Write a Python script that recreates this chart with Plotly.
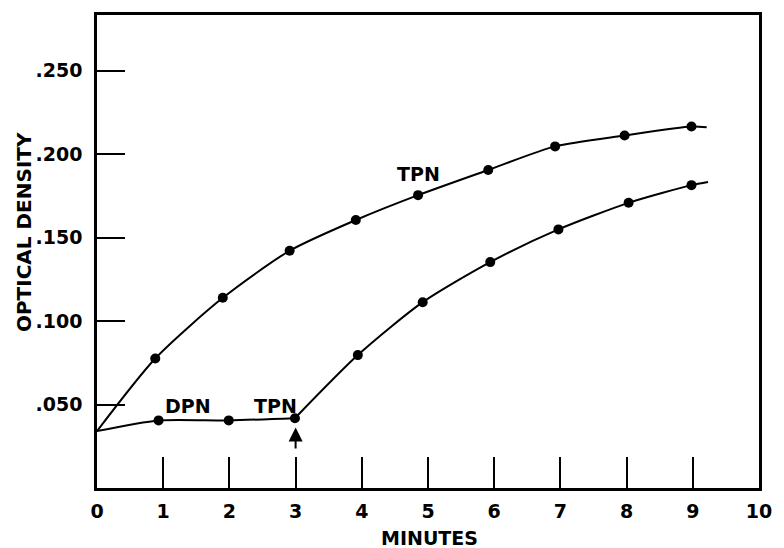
import plotly.graph_objects as go

# Data (minutes, optical density)
t_start = 0.0
od_start = 0.0341

t_tpn = [0.88, 1.90, 2.91, 3.91, 4.85, 5.91, 6.92, 7.97, 8.98]
od_tpn = [0.0776, 0.1139, 0.1421, 0.1605, 0.1754, 0.1905, 0.2046, 0.2111, 0.2165]
t_tpn_end = 9.21
od_tpn_end = 0.2160

t_dpn = [0.93, 1.99, 2.99]
od_dpn = [0.0405, 0.0405, 0.0418]

t_after = [3.94, 4.92, 5.94, 6.97, 8.03, 8.98]
od_after = [0.0796, 0.1113, 0.1353, 0.1549, 0.1708, 0.1814]
t_after_end = 9.23
od_after_end = 0.1833

x_ticks = list(range(0, 11))
x_ticktext = [str(v) for v in x_ticks]
y_ticks = [0.05, 0.10, 0.15, 0.20, 0.25]
y_ticktext = [".050", ".100", ".150", ".200", ".250"]

FONT = "DejaVu Sans"
BLACK = "#000000"

fig = go.Figure()

line_style = dict(color=BLACK, width=2, shape="spline", smoothing=0.7)
marker_style = dict(color=BLACK, size=10)

# Upper TPN curve
fig.add_trace(go.Scatter(x=[t_start] + t_tpn + [t_tpn_end],
                         y=[od_start] + od_tpn + [od_tpn_end],
                         mode="lines", line=line_style, hoverinfo="skip"))
fig.add_trace(go.Scatter(x=t_tpn, y=od_tpn, mode="markers", marker=marker_style))

# DPN plateau
fig.add_trace(go.Scatter(x=[t_start] + t_dpn, y=[od_start] + od_dpn,
                         mode="lines", line=line_style, hoverinfo="skip"))
fig.add_trace(go.Scatter(x=t_dpn, y=od_dpn, mode="markers", marker=marker_style))

# After TPN addition
fig.add_trace(go.Scatter(x=[t_dpn[-1]] + t_after + [t_after_end],
                         y=[od_dpn[-1]] + od_after + [od_after_end],
                         mode="lines", line=line_style, hoverinfo="skip"))
fig.add_trace(go.Scatter(x=t_after, y=od_after, mode="markers", marker=marker_style))

lab_font = dict(family=FONT, size=19, color=BLACK, weight="bold")

annotations = [
    dict(x=4.85, y=0.1883, xref="x", yref="y", text="TPN", showarrow=False, font=lab_font),
    dict(x=1.38, y=0.0494, xref="x", yref="y", text="DPN", showarrow=False, font=lab_font),
    dict(x=2.69, y=0.0494, xref="x", yref="y", text="TPN", showarrow=False, font=lab_font),
    dict(x=3, y=0.0362, ax=3, ay=0.0228, xref="x", yref="y", axref="x", ayref="y",
         text="", showarrow=True, arrowhead=2, arrowsize=1.4, arrowwidth=2, arrowcolor=BLACK),
    dict(x=-0.111, y=0.54, xref="paper", yref="paper", text="OPTICAL DENSITY",
         textangle=-90, showarrow=False, xanchor="center", yanchor="middle",
         font=dict(family=FONT, size=20, color=BLACK, weight="bold")),
    dict(x=0.502, y=-0.105, xref="paper", yref="paper", text="MINUTES", showarrow=False,
         xanchor="center", yanchor="middle",
         font=dict(family=FONT, size=19, color=BLACK, weight="bold")),
]

fig.update_layout(
    width=784, height=548,
    margin=dict(l=97, r=14, t=12, b=60),
    paper_bgcolor="white", plot_bgcolor="white",
    showlegend=False,
    annotations=annotations,
    xaxis=dict(range=[0, 10], tickvals=x_ticks, ticktext=x_ticktext,
               ticks="inside", ticklen=31, tickwidth=2, tickcolor=BLACK,
               showline=True, linecolor=BLACK, linewidth=2.5, mirror=True,
               showgrid=False, zeroline=False, ticklabelstandoff=4,
               tickfont=dict(family=FONT, size=19, color=BLACK, weight="bold")),
    yaxis=dict(range=[0, 0.2833], tickvals=y_ticks, ticktext=y_ticktext,
               ticks="inside", ticklen=28, tickwidth=2, tickcolor=BLACK,
               showline=True, linecolor=BLACK, linewidth=2.5, mirror=True,
               showgrid=False, zeroline=False, ticklabelstandoff=8,
               tickfont=dict(family=FONT, size=19, color=BLACK, weight="bold")),
)

fig.write_html("out.html", config={"displayModeBar": False},
               post_script="document.body.style.margin='0';document.body.style.overflow='hidden';")
